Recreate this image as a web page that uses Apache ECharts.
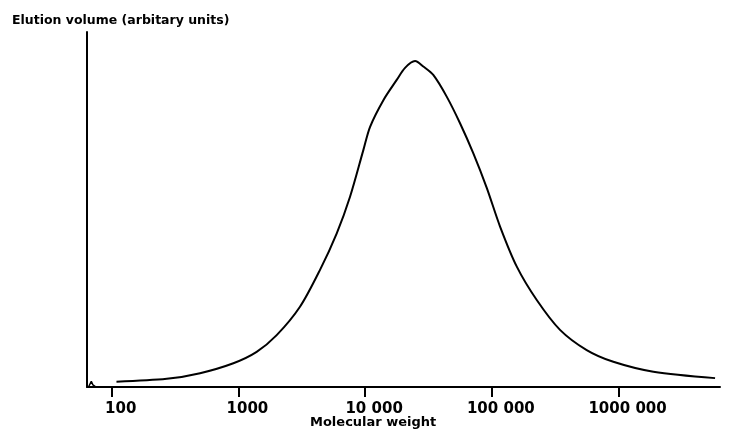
<!DOCTYPE html>
<html>
<head>
<meta charset="utf-8">
<script src="https://cdn.jsdelivr.net/npm/echarts@6/dist/echarts.min.js"></script>
<style>
  html, body { margin: 0; padding: 0; background: #fff; }
  #main { width: 731px; height: 429px; }
</style>
</head>
<body>
<div id="main"></div>
<script>
// molecular weight (log axis) and elution volume (arbitrary units, 0-100)
var molWeight = [109, 272, 498, 912, 1393, 2004, 3060, 4404, 5970, 7600, 9690, 10940,
  13930, 17750, 20650, 24770, 29000, 34500, 44030, 56100, 71450, 91170, 116100, 157400,
  226200, 345100, 560600, 909700, 1884000, 5780000];
var elution = [1.5, 2.3, 3.9, 6.7, 9.9, 14.6, 22.6, 33.0, 43.3, 53.6, 66.8, 73.3,
  80.8, 86.5, 89.9, 91.8, 90.2, 87.9, 81.8, 74.3, 65.8, 56.1, 45.2, 33.9,
  24.5, 16.1, 10.4, 7.1, 4.3, 2.5];

// small spike near the origin
var blipWeight = [66, 69, 71, 74];
var blipValue = [0.2, 1.6, 0.6, 0.2];

var tickValues = [100, 1000, 10000, 100000, 1000000];
var tickLabels = ['100', '1000', '10 000', '100 000', '1000 000'];

var myChart = echarts.init(document.getElementById('main'));

var font = 'DejaVu Sans';

var option = {
  animation: false,
  backgroundColor: '#fff',
  title: [
    {
      text: 'Elution volume (arbitary units)',
      left: 7,
      top: 9,
      textStyle: { fontFamily: font, fontSize: 12.5, fontWeight: 'bold', color: '#000' }
    },
    {
      text: 'Molecular weight',
      left: 305,
      top: 411,
      textStyle: { fontFamily: font, fontSize: 13, fontWeight: 'bold', color: '#000' }
    }
  ],
  grid: { left: 87, right: 11, top: 32, bottom: 42 },
  xAxis: {
    type: 'log',
    logBase: 10,
    min: 63.8,
    max: 6320000,
    axisLine: { show: true, lineStyle: { color: '#000', width: 2 } },
    axisTick: {
      show: true,
      customValues: tickValues,
      length: 10,
      lineStyle: { color: '#000', width: 2 }
    },
    axisLabel: {
      customValues: tickValues,
      margin: 15,
      padding: [0, 0, 0, 18],
      fontFamily: font,
      fontSize: 15,
      fontWeight: 'bold',
      color: '#000',
      formatter: function (value) {
        var i = tickValues.indexOf(value);
        return i >= 0 ? tickLabels[i] : '';
      }
    },
    splitLine: { show: false }
  },
  yAxis: {
    type: 'value',
    min: 0,
    max: 100,
    axisLine: { show: true, lineStyle: { color: '#000', width: 2 } },
    axisTick: { show: false },
    axisLabel: { show: false },
    splitLine: { show: false }
  },
  series: [
    {
      type: 'line',
      smooth: 0.3,
      symbol: 'none',
      lineStyle: { color: '#000', width: 2 },
      data: molWeight.map(function (m, i) {
        return [m, elution[i]];
      })
    },
    {
      type: 'line',
      symbol: 'none',
      lineStyle: { color: '#000', width: 1.5 },
      data: blipWeight.map(function (m, i) {
        return [m, blipValue[i]];
      })
    }
  ]
};

myChart.setOption(option);
</script>
</body>
</html>
